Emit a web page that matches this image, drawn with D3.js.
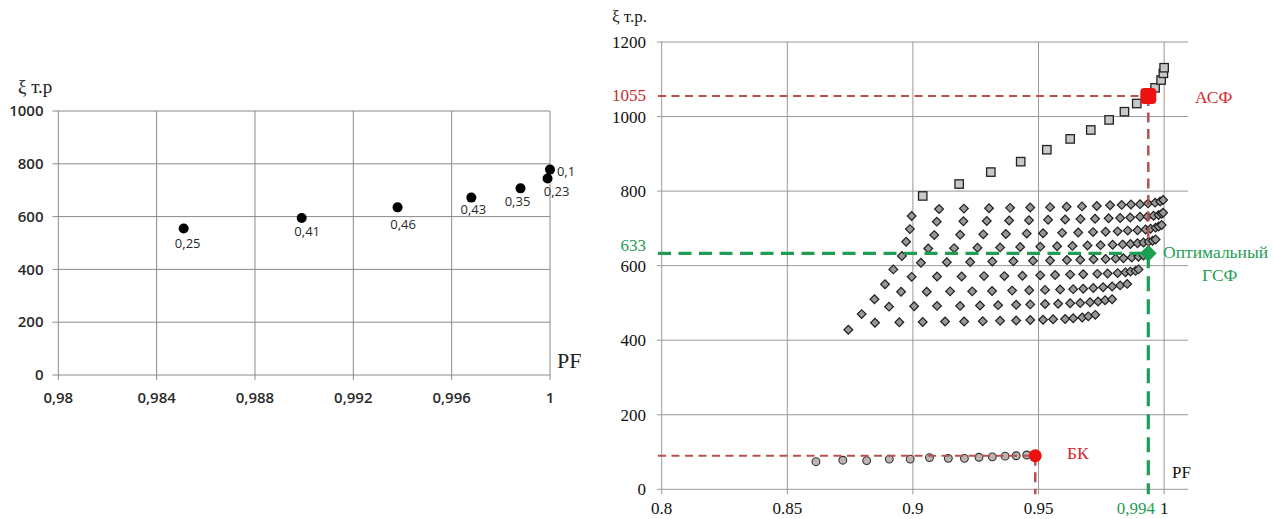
<!DOCTYPE html>
<html><head><meta charset="utf-8">
<script src="https://cdn.jsdelivr.net/npm/d3@7"></script>
<style>body{margin:0;background:#fff} svg{display:block}</style>
</head><body>
<svg id="c" width="1274" height="519"></svg>
<script>
// ---------- LEFT CHART DATA ----------
const leftXTicks = [0.98, 0.984, 0.988, 0.992, 0.996, 1];
const leftXTickLabels = ["0,98", "0,984", "0,988", "0,992", "0,996", "1"];
const leftYTicks = [0, 200, 400, 600, 800, 1000];
const leftPF = [0.9851, 0.9899, 0.9938, 0.9968, 0.9988, 0.9999, 1.0];
const leftXi = [555, 595, 635, 672, 707, 744, 778];
const leftLabels = ["0,25", "0,41", "0,46", "0,43", "0,35", "0,23", "0,1"];

// ---------- RIGHT CHART DATA ----------
const rightXTicks = [0.8, 0.85, 0.9, 0.95, 1];
const rightXTickLabels = ["0.8", "0.85", "0.9", "0.95", "1"];
const rightYTicks = [0, 200, 400, 600, 800, 1000, 1200];

const row1PF = [0.8995,0.9104,0.9203,0.9303,0.9387,0.9467,0.9546,0.9612,0.9673,0.9732,0.9785,0.9831,0.9868,0.9904,0.9936,0.9964,0.9984,0.9996];
const row1Xi = [733,752,753,754,755,756,757,758,759,760,762,763,764,765,767,769,772,776];
const row2PF = [0.8988,0.9095,0.9201,0.9294,0.9383,0.9462,0.9538,0.9606,0.9667,0.9725,0.9779,0.9825,0.9865,0.9904,0.9934,0.9958,0.9978,0.9990,0.9996];
const row2Xi = [698,718,719,720,721,722,723,724,725,726,727,728,729,731,732,734,736,739,742];
const row3PF = [0.8973,0.9085,0.9188,0.9280,0.9370,0.9453,0.9518,0.9594,0.9658,0.9717,0.9767,0.9815,0.9855,0.9894,0.9926,0.9946,0.9966,0.9978,0.9990];
const row3Xi = [664,682,683,684,685,686,687,688,689,690,691,692,694,695,697,699,702,705,709];
const row4PF = [0.8956,0.9061,0.9164,0.9257,0.9347,0.9427,0.9507,0.9574,0.9635,0.9695,0.9747,0.9795,0.9835,0.9866,0.9894,0.9918,0.9938,0.9954,0.9966];
const row4Xi = [626,646,647,648,649,650,651,652,653,654,655,656,657,658,660,662,664,667,670];
const row5PF = [0.8922,0.9032,0.9135,0.9228,0.9316,0.9400,0.9478,0.9546,0.9613,0.9666,0.9719,0.9767,0.9807,0.9838,0.9871,0.9898,0.9918];
const row5Xi = [590,608,609,610,611,612,613,614,615,616,617,618,619,620,622,624,627];
const row6PF = [0.8889,0.8995,0.9096,0.9194,0.9283,0.9364,0.9436,0.9507,0.9566,0.9626,0.9678,0.9734,0.9775,0.9815,0.9846,0.9866,0.9886,0.9898];
const row6Xi = [550,570,571,571,572,572,573,574,575,576,577,578,579,580,582,584,586,590];
const row7PF = [0.8847,0.8953,0.9055,0.9148,0.9236,0.9315,0.9395,0.9463,0.9526,0.9586,0.9638,0.9678,0.9718,0.9757,0.9793,0.9825,0.9853];
const row7Xi = [510,530,530,531,531,532,533,534,535,536,537,538,540,542,544,547,551];
const row8PF = [0.8796,0.8905,0.9005,0.9096,0.9188,0.9267,0.9339,0.9411,0.9467,0.9526,0.9578,0.9626,0.9666,0.9705,0.9737,0.9765,0.9793];
const row8Xi = [470,490,491,492,492,493,494,495,496,497,498,499,500,502,504,507,510];
const row9PF = [0.8743,0.8849,0.8946,0.9039,0.9128,0.9204,0.9278,0.9347,0.9411,0.9467,0.9518,0.9558,0.9606,0.9638,0.9674,0.9698,0.9726];
const row9Xi = [428,447,448,449,450,450,451,452,453,454,455,456,457,459,461,464,468];

const squarePF = [0.9039,0.9184,0.9310,0.9429,0.9533,0.9626,0.9708,0.9781,0.9842,0.9891,0.9964,0.9988,0.9997,1.0];
const squareXi = [787,819,851,879,911,940,964,991,1013,1035,1077,1098,1116,1131];

const circlePF = [0.8614,0.8721,0.8816,0.8906,0.8989,0.9066,0.9141,0.9205,0.9263,0.9316,0.9367,0.9411,0.9453];
const circleXi = [74,78,77,81,81,85,83,83,86,87,89,90,92];

const asfPoint = [0.9937, 1055];
const gsfPoint = [0.9937, 633];
const bkPoint = [0.9487, 90];

// ---------- DRAW ----------
const svg = d3.select("#c");
const serif = "'Liberation Serif', 'Times New Roman', serif";
const sans = "'Open Sans', 'Liberation Sans', sans-serif";

// LEFT CHART
const xL = d3.scaleLinear().domain([0.98, 1]).range([58.3, 550]);
const yL = d3.scaleLinear().domain([0, 1000]).range([375, 111]);
const gL = svg.append("g");
gL.selectAll(".hg").data(leftYTicks).join("line")
  .attr("x1", 52.5).attr("x2", xL(1)).attr("y1", d => yL(d)).attr("y2", d => yL(d))
  .attr("stroke", "#8a8a8a").attr("stroke-width", 1);
gL.selectAll(".vg").data(leftXTicks).join("line")
  .attr("x1", d => xL(d)).attr("x2", d => xL(d)).attr("y1", yL(1000)).attr("y2", yL(0) + 5)
  .attr("stroke", "#8a8a8a").attr("stroke-width", 1);
gL.selectAll(".yl").data(leftYTicks).join("text")
  .attr("x", 43.5).attr("y", d => yL(d)).attr("dy", "0.35em").attr("text-anchor", "end")
  .attr("font-family", sans).attr("font-size", 15).attr("font-weight", 600).attr("fill", "#2a2a2a")
  .text(d => d);
gL.selectAll(".xl").data(leftXTicks).join("text")
  .attr("x", d => xL(d)).attr("y", 398).attr("dy", "0.35em").attr("text-anchor", "middle")
  .attr("font-family", sans).attr("font-size", 15).attr("font-weight", 600).attr("fill", "#2a2a2a")
  .text((d, i) => leftXTickLabels[i]);
const leftPts = leftPF.map((p, i) => ({pf: p, xi: leftXi[i], label: leftLabels[i]}));
gL.selectAll(".pt").data(leftPts).join("circle")
  .attr("cx", d => xL(d.pf)).attr("cy", d => yL(d.xi)).attr("r", 5).attr("fill", "#000");
// label placement (layout only)
const leftLabelOffset = {"0,25":[4,15],"0,41":[5.5,14],"0,46":[5.5,17],"0,43":[2,11.5],"0,35":[-3,13.5],"0,23":[9,12.5],"0,1":[16,2]};
gL.selectAll(".plab").data(leftPts).join("text")
  .attr("x", d => xL(d.pf) + leftLabelOffset[d.label][0])
  .attr("y", d => yL(d.xi) + leftLabelOffset[d.label][1])
  .attr("dy", "0.35em").attr("text-anchor", "middle")
  .attr("font-family", sans).attr("font-size", 13).attr("font-weight", 500).attr("fill", "#2a2a2a")
  .text(d => d.label);
gL.append("text").attr("x", 18).attr("y", 93).attr("font-family", serif).attr("font-size", 19)
  .attr("fill", "#222").text("ξ т.р");
gL.append("text").attr("x", 557).attr("y", 368).attr("font-family", serif).attr("font-size", 22)
  .attr("fill", "#222").text("PF");

// RIGHT CHART
const xR = d3.scaleLinear().domain([0.8, 1.0095]).range([661.7, 1188]);
const yR = d3.scaleLinear().domain([0, 1200]).range([489.3, 42]);
const gR = svg.append("g");
gR.selectAll(".hg").data(rightYTicks).join("line")
  .attr("x1", 657).attr("x2", 1188).attr("y1", d => yR(d)).attr("y2", d => yR(d))
  .attr("stroke", "#999").attr("stroke-width", 1);
gR.selectAll(".vg").data(rightXTicks).join("line")
  .attr("x1", d => xR(d)).attr("x2", d => xR(d)).attr("y1", yR(1200)).attr("y2", yR(0) + 5)
  .attr("stroke", "#999").attr("stroke-width", 1);
gR.selectAll(".yl").data(rightYTicks).join("text")
  .attr("x", 646).attr("y", d => yR(d)).attr("dy", "0.35em").attr("text-anchor", "end")
  .attr("font-family", serif).attr("font-size", 17).attr("fill", "#111")
  .text(d => d);
gR.selectAll(".xl").data(rightXTicks).join("text")
  .attr("x", d => xR(d)).attr("y", 514).attr("text-anchor", "middle")
  .attr("font-family", serif).attr("font-size", 17).attr("fill", "#111")
  .text((d, i) => rightXTickLabels[i]);

// diamond series
const rows = [[row1PF,row1Xi],[row2PF,row2Xi],[row3PF,row3Xi],[row4PF,row4Xi],[row5PF,row5Xi],[row6PF,row6Xi],[row7PF,row7Xi],[row8PF,row8Xi],[row9PF,row9Xi]];
const diamonds = rows.flatMap(([p, x]) => p.map((v, i) => [v, x[i]]));
const dSym = d3.symbol().type(d3.symbolSquare).size(38)();
gR.selectAll(".dm").data(diamonds).join("path")
  .attr("d", dSym)
  .attr("transform", d => `translate(${xR(d[0])},${yR(d[1])}) rotate(45)`)
  .attr("fill", "#989898").attr("stroke", "#1e1e1e").attr("stroke-width", 1.2);

// squares
const squares = squarePF.map((p, i) => [p, squareXi[i]]);
gR.selectAll(".sq").data(squares).join("rect")
  .attr("x", d => xR(d[0]) - 4.2).attr("y", d => yR(d[1]) - 4.2)
  .attr("width", 8.4).attr("height", 8.4)
  .attr("fill", "#c8c8c8").attr("stroke", "#222").attr("stroke-width", 1.3);

// circles
const circles = circlePF.map((p, i) => [p, circleXi[i]]);
gR.selectAll(".cc").data(circles).join("circle")
  .attr("cx", d => xR(d[0])).attr("cy", d => yR(d[1])).attr("r", 3.9)
  .attr("fill", "#bdb3b3").attr("stroke", "#333").attr("stroke-width", 1.1);

// dashed reference lines
const red = "#b5524f", green = "#1f9d55";
function dline(x1, y1, x2, y2, col, w, dash) {
  gR.append("line").attr("x1", x1).attr("y1", y1).attr("x2", x2).attr("y2", y2)
    .attr("stroke", col).attr("stroke-width", w).attr("stroke-dasharray", dash);
}
dline(658, yR(asfPoint[1]), xR(asfPoint[0]), yR(asfPoint[1]), red, 2, "8,5.5");
dline(xR(asfPoint[0]), yR(asfPoint[1]), xR(asfPoint[0]), yR(gsfPoint[1]), red, 2.5, "10,6.5");
dline(658, yR(gsfPoint[1]), xR(gsfPoint[0]), yR(gsfPoint[1]), green, 3.3, "13,7.5");
dline(xR(gsfPoint[0]), yR(gsfPoint[1]), xR(gsfPoint[0]), yR(0) + 5, green, 3.2, "15,8");
dline(658, yR(bkPoint[1]), xR(bkPoint[0]), yR(bkPoint[1]), red, 2, "8,5.5");
dline(xR(bkPoint[0]), yR(bkPoint[1]), xR(bkPoint[0]), yR(0) + 5, red, 2.5, "10,6.5");

// highlighted points
gR.append("rect").attr("x", xR(asfPoint[0]) - 8).attr("y", yR(asfPoint[1]) - 8)
  .attr("width", 16).attr("height", 16).attr("rx", 4).attr("fill", "#ee1111");
gR.append("path").attr("d", d3.symbol().type(d3.symbolSquare).size(140)())
  .attr("transform", `translate(${xR(gsfPoint[0])},${yR(gsfPoint[1])}) rotate(45)`)
  .attr("fill", "#1aa04f");
gR.append("circle").attr("cx", xR(bkPoint[0])).attr("cy", yR(bkPoint[1])).attr("r", 6.5).attr("fill", "#ee1111");

// annotation texts
function txt(x, y, s, col, size, anchor) {
  gR.append("text").attr("x", x).attr("y", y).attr("font-family", serif)
    .attr("font-size", size).attr("fill", col).attr("text-anchor", anchor || "start").text(s);
}
txt(646, yR(asfPoint[1]) + 5, "1055", "#c8282e", 17, "end");
txt(646, yR(gsfPoint[1]) - 2, "633", green, 17, "end");
txt(1195, 103, "АСФ", "#d42a2a", 17.5);
txt(1163, 258, "Оптимальный", green, 17.5);
txt(1202, 281, "ГСФ", green, 17.5);
txt(1067, 459, "БК", "#d42a2a", 17.5);
txt(1172, 478, "PF", "#111", 17);
txt(1155, 514, "0,994", green, 17, "end");
txt(612, 22, "ξ т.р.", "#222", 17);
</script></body></html>
